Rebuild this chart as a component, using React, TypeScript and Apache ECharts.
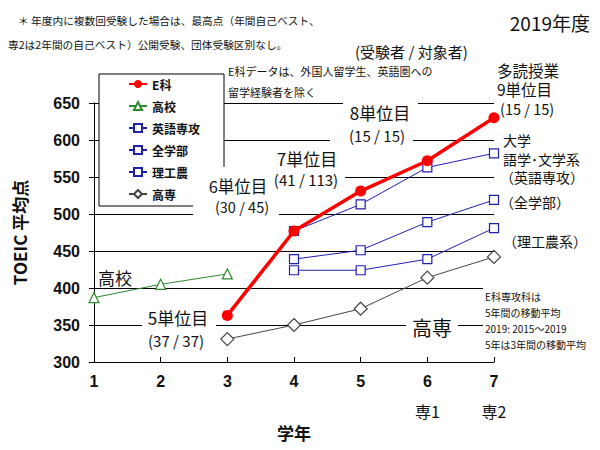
import React, { useEffect, useRef } from "react";
import * as echarts from "echarts";

const years = ["1", "2", "3", "4", "5", "6", "7"];
const yTicks = { min: 300, max: 650, interval: 50 };

const seriesNames = ["E科", "高校", "英語専攻", "全学部", "理工農", "高専"];
const eka = [null, null, 363, 477, 531, 572, 630];
const koukou = [387, 405, 419, null, null, null, null];
const eigo = [null, null, null, 477, 513, 563, 582];
const zengakubu = [null, null, null, 439, 451, 489, 519];
const rikou = [null, null, null, 424, 424, 439, 481];
const kousen = [null, null, 331, 350, 372, 414, 442];

const JP = "'Noto Sans CJK JP', sans-serif";
const AR = "'Liberation Sans', Arial, sans-serif";

const hollow = (name: string, data: (number | null)[], color: string, symbol: string, size: number) => ({
  name,
  type: "line",
  data,
  symbol,
  symbolSize: size,
  z: 3,
  lineStyle: { color, width: 1 },
  itemStyle: { color: "#fff", borderColor: color, borderWidth: 1.2 },
});

const txt = (text: string, x: number, y: number, fontSize: number, align = "left", extra: any = {}) => ({
  type: "text",
  x,
  y,
  z: 6,
  style: { text, fontSize, fontFamily: JP, fill: "#111", align, verticalAlign: "middle", ...extra },
});

const wrect = (x: number, y: number, w: number, h: number, z = 1) => ({
  type: "rect",
  z,
  shape: { x, y, width: w, height: h },
  style: { fill: "#fff" },
});

export default function App() {
  const ref = useRef<HTMLDivElement>(null);
  useEffect(() => {
    if (!ref.current) return;
    const chart = echarts.init(ref.current, undefined, { renderer: "svg" });
    const blue = "#1f1fb0";
    chart.setOption({
      animation: false,
      backgroundColor: "#fff",
      grid: { left: 94, right: 106, top: 103, bottom: 88 },
      legend: {
        orient: "vertical",
        left: 99,
        top: 74,
        backgroundColor: "#fff",
        borderColor: "#000",
        borderWidth: 1,
        padding: [4, 24, 6, 29],
        itemGap: 10,
        itemWidth: 18,
        itemHeight: 10,
        data: seriesNames,
        textStyle: { fontSize: 12, fontWeight: "bold", fontFamily: JP, color: "#111" },
      },
      xAxis: {
        type: "category",
        data: years,
        boundaryGap: false,
        name: "学年",
        nameLocation: "middle",
        nameGap: 48,
        nameTextStyle: { fontSize: 17, fontWeight: "bold", fontFamily: JP, color: "#111" },
        axisLine: { lineStyle: { color: "#000", width: 1 } },
        axisTick: { show: true, inside: true, length: 5, alignWithLabel: true, lineStyle: { color: "#000" } },
        axisLabel: {
          margin: 9,
          formatter: (v: string) => (v === "6" ? `{n|6}\n{s|専1}` : v === "7" ? `{n|7}\n{s|専2}` : `{n|${v}}`),
          rich: {
            n: { fontSize: 16, fontWeight: "bold", fontFamily: AR, color: "#111", lineHeight: 20 },
            s: { fontSize: 16, fontFamily: JP, color: "#111", lineHeight: 40 },
          },
        },
        splitLine: { show: false },
      },
      yAxis: {
        type: "value",
        min: yTicks.min,
        max: yTicks.max,
        interval: yTicks.interval,
        name: "TOEIC 平均点",
        nameLocation: "middle",
        nameGap: 66,
        nameTextStyle: { fontSize: 17, fontWeight: "bold", fontFamily: JP, color: "#111" },
        axisLine: { show: true, lineStyle: { color: "#000", width: 1 } },
        axisTick: { show: true, length: 5, lineStyle: { color: "#000" } },
        axisLabel: { margin: 14, fontSize: 16, fontWeight: "bold", fontFamily: AR, color: "#111" },
        splitLine: { show: true, lineStyle: { color: "#000", width: 1 } },
      },
      series: [
        {
          name: "E科",
          type: "line",
          data: eka,
          symbol: "circle",
          symbolSize: 11,
          z: 4,
          lineStyle: { color: "#ff0000", width: 3.5 },
          itemStyle: { color: "#ff0000" },
        },
        hollow("高校", koukou, "#2e8b2e", "triangle", 10),
        hollow("英語専攻", eigo, blue, "rect", 9),
        hollow("全学部", zengakubu, blue, "rect", 9),
        hollow("理工農", rikou, blue, "rect", 9),
        hollow("高専", kousen, "#444", "diamond", 13),
      ],
      graphic: [
        wrect(343, 101, 75, 22),
        wrect(330, 125, 83, 21),
        wrect(268, 169, 77, 20),
        wrect(193, 167, 86, 55, 5),
        wrect(142, 306, 74, 44),
        wrect(406, 312, 52, 28),
        wrect(483, 284, 117, 68),
        txt("＊ 年度内に複数回受験した場合は、最高点（年間自己ベスト、", 18, 20, 10.7),
        txt("専2は2年間の自己ベスト）公開受験、団体受験区別なし。", 8, 44, 10.7),
        txt("2019年度", 590, 22, 19, "right"),
        txt("(受験者 / 対象者)", 355, 51, 15),
        txt("E科データは、外国人留学生、英語圏への", 228, 71, 11),
        txt("留学経験者を除く", 228, 92, 11),
        txt("多読授業", 497, 70, 15.5),
        txt("9単位目", 497, 89, 15.5),
        txt("(15 / 15)", 500, 108, 14.5),
        txt("8単位目", 380, 112, 17, "center"),
        txt("(15 / 15)", 377, 135, 15, "center"),
        txt("7単位目", 307, 158, 17, "center"),
        txt("(41 / 113)", 306, 179, 15, "center"),
        txt("6単位目", 238, 186, 16.5, "center"),
        txt("(30 / 45)", 242, 206, 14.5, "center"),
        txt("5単位目", 178, 317, 17, "center"),
        txt("(37 / 37)", 176, 340, 15, "center"),
        txt("高校", 98, 277, 17),
        txt("高専", 432, 327, 20, "center"),
        txt("大学", 503, 140, 14),
        txt("語学･文学系", 503, 159, 14),
        txt("（英語専攻）", 500, 177, 14),
        txt("（全学部）", 500, 202, 14),
        txt("（理工農系）", 503, 241, 14),
        txt("E科専攻科は", 485, 296, 10),
        txt("5年間の移動平均", 485, 312, 10),
        txt("2019: 2015〜2019", 485, 328, 10),
        txt("5年は3年間の移動平均", 485, 344, 10),
      ],
    });
    return () => chart.dispose();
  }, []);
  return <div ref={ref} style={{ position: "fixed", left: 0, top: 0, width: 600, height: 450 }} />;
}
